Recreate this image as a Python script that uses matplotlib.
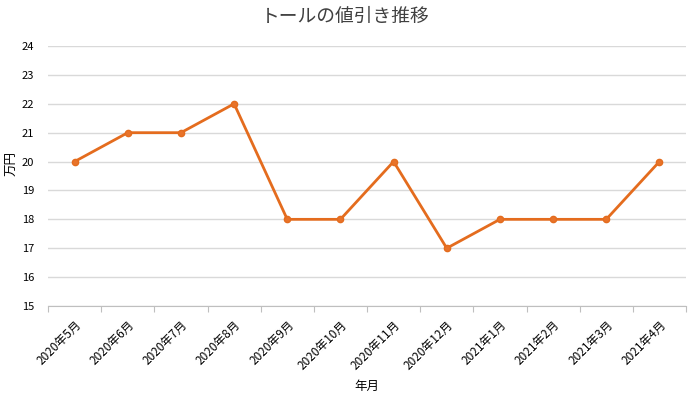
import numpy as np
import matplotlib
matplotlib.use('Agg')
import matplotlib.pyplot as plt

plt.rcParams['font.family'] = ['Noto Sans CJK JP', 'DejaVu Sans']

# data
months = ['2020年5月', '2020年6月', '2020年7月', '2020年8月', '2020年9月', '2020年10月',
          '2020年11月', '2020年12月', '2021年1月', '2021年2月', '2021年3月', '2021年4月']
price = [20, 21, 21, 22, 18, 18, 20, 17, 18, 18, 18, 20]
yticks = list(range(15, 25))

fig = plt.figure(figsize=(6.9, 3.95), dpi=100)
ax = fig.add_axes([0.0696, 0.2253, 0.9246, 0.6582])

x = np.arange(len(months))
ax.plot(x, price, color='#E46C1E', lw=2.0, marker='o', ms=4.5,
        markerfacecolor='#E8732A', markeredgecolor='#E46C1E', zorder=3)

ax.set_xlim(-0.5, len(months) - 0.5)
ax.set_ylim(15, 24)
ax.set_yticks(yticks)
ax.set_yticklabels([str(v) for v in yticks], fontsize=8)
ax.grid(axis='y', color='#D9D9D9', lw=1)
ax.set_axisbelow(True)

# category boundaries for tick marks, labels at centers
ax.set_xticks(np.arange(-0.5, len(months)), minor=False)
ax.set_xticklabels([])
ax.set_xticks(x, minor=True)
ax.set_xticklabels(months, minor=True, rotation=45, ha='right',
                   rotation_mode='anchor', fontsize=8.5)
ax.tick_params(axis='x', which='major', length=4, color='#BFBFBF')
ax.tick_params(axis='x', which='minor', length=0, pad=9)
ax.tick_params(axis='y', length=0, pad=10)

for s in ['top', 'right', 'left']:
    ax.spines[s].set_visible(False)
ax.spines['bottom'].set_color('#BFBFBF')

ax.set_ylabel('万円', fontsize=9)
ax.yaxis.set_label_coords(-0.046, 0.55)
ax.set_xlabel('年月', fontsize=9)
ax.xaxis.set_label_coords(0.5, -0.285)
fig.suptitle('トールの値引き推移', fontsize=13.5, y=0.985, color='#404040')

fig.savefig('out.png', dpi=100)
